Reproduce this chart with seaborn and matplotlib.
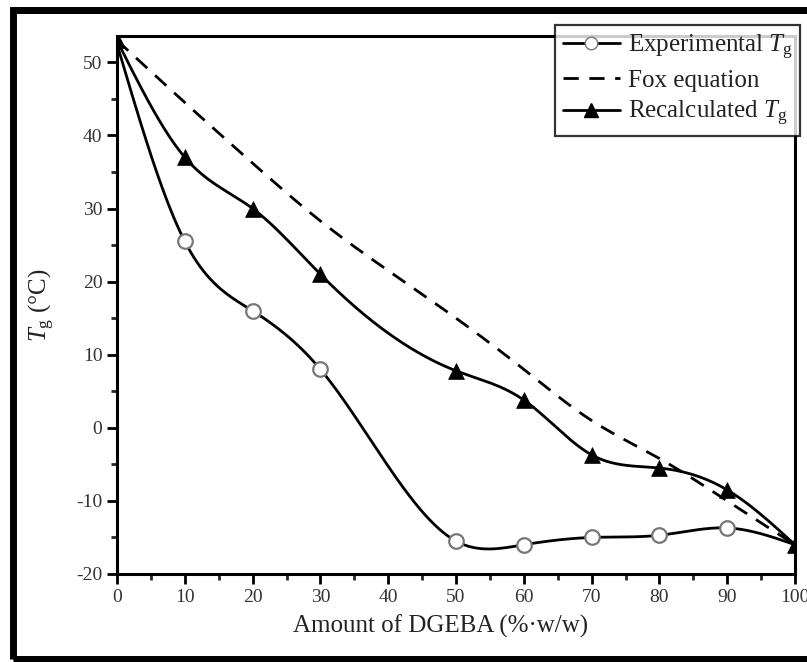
import numpy as np
import pandas as pd
import matplotlib
matplotlib.use("Agg")
import matplotlib.pyplot as plt
from matplotlib.patches import Rectangle
from matplotlib.ticker import MultipleLocator
import seaborn as sns

# ---- data ----
exp_x = [0, 10, 20, 30, 50, 60, 70, 80, 90, 100]
exp_y = [52.5, 25.5, 16.0, 8.0, -15.5, -16.0, -15.0, -14.7, -13.7, -16.0]

fox_x = [0, 10, 20, 30, 40, 50, 60, 70, 80, 90, 100]
fox_y = [53.0, 44.5, 36.2, 28.3, 21.5, 15.0, 8.0, 1.0, -4.2, -10.0, -16.0]

rec_x = [0, 10, 20, 30, 50, 60, 70, 80, 90, 100]
rec_y = [53.0, 37.0, 30.0, 21.0, 7.8, 3.8, -3.7, -5.5, -8.5, -16.0]

x_ticks = [0, 10, 20, 30, 40, 50, 60, 70, 80, 90, 100]
y_ticks = [-20, -10, 0, 10, 20, 30, 40, 50]


def natural_spline(x, y, n=400):
    """Smooth connecting curve (natural cubic spline) through the points."""
    x = np.asarray(x, float)
    y = np.asarray(y, float)
    k = len(x)
    h = np.diff(x)
    A = np.zeros((k, k))
    b = np.zeros(k)
    A[0, 0] = A[-1, -1] = 1
    for i in range(1, k - 1):
        A[i, i - 1] = h[i - 1]
        A[i, i] = 2 * (h[i - 1] + h[i])
        A[i, i + 1] = h[i]
        b[i] = 6 * ((y[i + 1] - y[i]) / h[i] - (y[i] - y[i - 1]) / h[i - 1])
    M = np.linalg.solve(A, b)
    xs = np.linspace(x[0], x[-1], n)
    idx = np.clip(np.searchsorted(x, xs) - 1, 0, k - 2)
    x0, x1 = x[idx], x[idx + 1]
    hh = x1 - x0
    t1 = x1 - xs
    t0 = xs - x0
    ys = (M[idx] * t1 ** 3 / (6 * hh) + M[idx + 1] * t0 ** 3 / (6 * hh)
          + (y[idx] / hh - M[idx] * hh / 6) * t1
          + (y[idx + 1] / hh - M[idx + 1] * hh / 6) * t0)
    return xs, ys


sns.set_style("ticks")
plt.rcParams["font.family"] = ["Liberation Serif", "DejaVu Serif"]
plt.rcParams["mathtext.fontset"] = "custom"
plt.rcParams["mathtext.rm"] = "Liberation Serif"
plt.rcParams["mathtext.it"] = "Liberation Serif:italic"
plt.rcParams["axes.unicode_minus"] = False

fig = plt.figure(figsize=(8.07, 6.62), dpi=100)
ax = fig.add_axes([117 / 807, 1 - 574 / 662, (795 - 117) / 807, (574 - 36) / 662])

lw = 2.0
dash = (0, (5.5, 3.8))
ex, ey = natural_spline(exp_x, exp_y)
fx, fy = natural_spline(fox_x, fox_y)
rx, ry = natural_spline(rec_x, rec_y)

sns.lineplot(x=fx, y=fy, ax=ax, color="black", lw=lw, linestyle=dash,
             sort=False, estimator=None)
sns.lineplot(x=rx, y=ry, ax=ax, color="black", lw=lw, sort=False, estimator=None)
sns.lineplot(x=ex, y=ey, ax=ax, color="black", lw=lw, sort=False, estimator=None)
sns.scatterplot(x=exp_x[1:-1], y=exp_y[1:-1], ax=ax, marker="o", s=110,
                facecolor="white", edgecolor="#777777", linewidth=1.6, zorder=5)
sns.scatterplot(x=rec_x, y=rec_y, ax=ax, marker="^", s=130,
                color="black", edgecolor="black", linewidth=0.5, zorder=6)

ax.set_xlim(0, 100)
ax.set_ylim(-20, 53.6)
ax.set_xticks(x_ticks)
ax.set_yticks(y_ticks)
ax.xaxis.set_minor_locator(MultipleLocator(5))
ax.yaxis.set_minor_locator(MultipleLocator(5))
ax.tick_params(which="major", direction="out", length=7, width=2, labelsize=14,
               colors="black", labelcolor="#333333")
ax.tick_params(which="minor", direction="out", length=4, width=2)
for s in ax.spines.values():
    s.set_linewidth(2.2)
    s.set_color("black")

ax.set_xlabel("Amount of DGEBA (%·w/w)", fontsize=18, color="#222222", labelpad=8)
ax.xaxis.set_label_coords(0.477, -0.075)
ax.set_ylabel(r"$T_{\mathrm{g}}$ (°C)", fontsize=18, color="#222222", labelpad=14)

handles = [
    plt.Line2D([], [], color="black", lw=lw, marker="o", markersize=9,
               markerfacecolor="white", markeredgecolor="#777777"),
    plt.Line2D([], [], color="black", lw=lw, linestyle=dash),
    plt.Line2D([], [], color="black", lw=lw, marker="^", markersize=10),
]
labels = [r"Experimental $T_{\mathrm{g}}$", "Fox equation", r"Recalculated $T_{\mathrm{g}}$"]
leg = ax.legend(handles, labels, loc="upper right", bbox_to_anchor=(1.008, 1.02),
                borderaxespad=0, fontsize=18, frameon=True, fancybox=False,
                edgecolor="black", handlelength=2.3, handletextpad=0.3,
                borderpad=0.3, labelspacing=0.3, numpoints=1)
leg.get_frame().set_linewidth(1.6)
for t in leg.get_texts():
    t.set_color("#222222")

fig.patches.append(Rectangle((13.5 / 807, 1 - 659 / 662), 1, (659 - 10) / 662,
                             transform=fig.transFigure, fill=False,
                             edgecolor="black", lw=5, zorder=0))

fig.savefig("out.png", dpi=100)
